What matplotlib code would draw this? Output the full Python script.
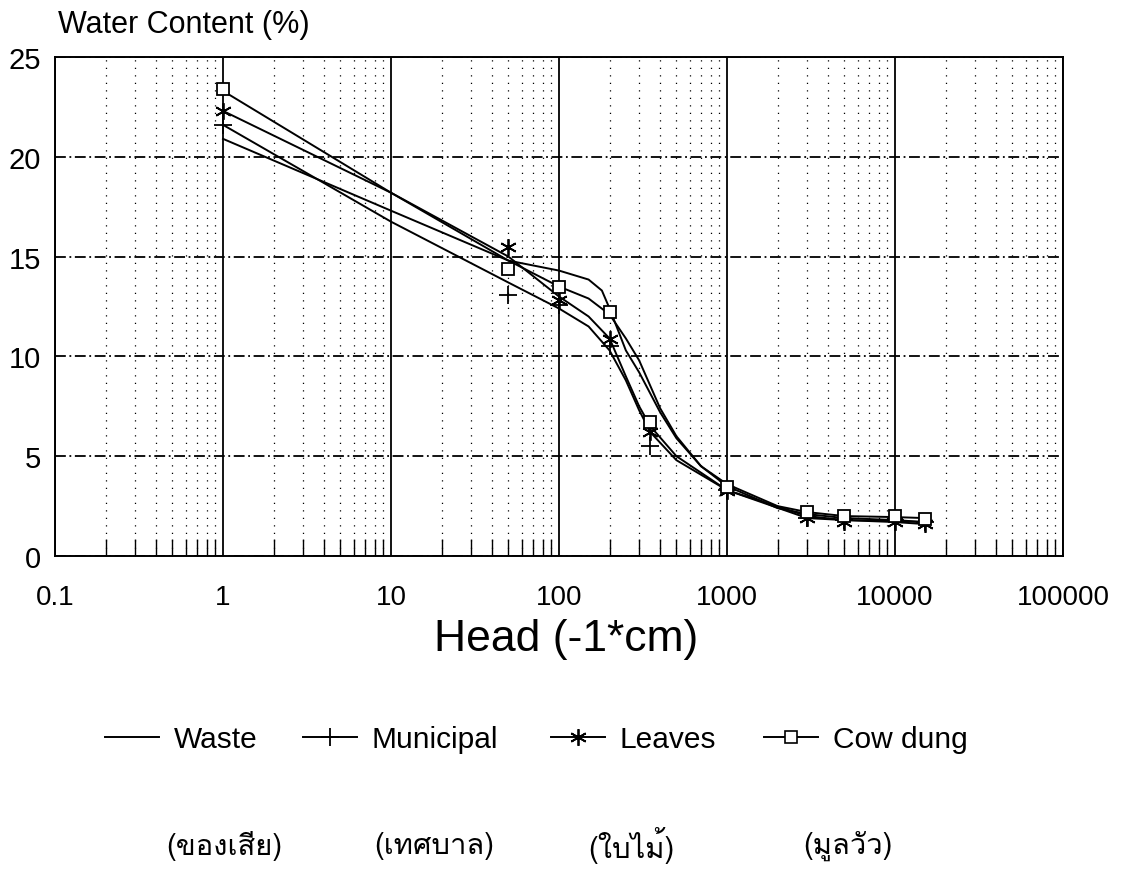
import matplotlib
matplotlib.use('Agg')
import matplotlib.pyplot as plt
from matplotlib import font_manager
from matplotlib.ft2font import FT2Font
from matplotlib.lines import Line2D
from matplotlib.ticker import LogLocator, NullFormatter, FixedLocator, FixedFormatter

head = [1, 50, 100, 200, 350, 1000, 3000, 5000, 10000, 15000]
municipal = [21.6, 13.1, 12.6, 10.5, 5.5, 3.3, 1.9, 1.8, 1.8, 1.7]
leaves = [22.3, 15.5, 12.85, 10.85, 6.2, 3.25, 1.9, 1.7, 1.7, 1.6]
cow_dung = [23.4, 14.4, 13.5, 12.2, 6.7, 3.45, 2.2, 2.0, 2.0, 1.85]

# --- fitted curves ---
waste_fit_x = [1, 10, 50, 100, 150, 180, 200, 250, 300, 400, 500, 700, 1000, 2000, 3000, 5000, 10000, 15000]
waste_fit = [20.9, 17.3, 14.8, 14.3, 13.85, 13.3, 12.4, 10.3, 9.2, 7.2, 5.9, 4.5, 3.5, 2.4, 2.1, 1.9, 1.8, 1.7]
municipal_fit_x = [1, 10, 50, 100, 150, 200, 250, 300, 350, 500, 1000, 3000, 5000, 10000, 15000]
municipal_fit = [21.6, 16.75, 13.7, 12.4, 11.5, 10.3, 8.8, 7.3, 6.2, 4.8, 3.3, 1.9, 1.8, 1.75, 1.7]
leaves_fit_x = [1, 10, 50, 100, 150, 200, 250, 300, 350, 500, 1000, 3000, 5000, 10000, 15000]
leaves_fit = [22.3, 18.2, 15.0, 13.0, 12.0, 10.9, 9.0, 7.5, 6.5, 5.0, 3.3, 2.0, 1.8, 1.7, 1.6]
cow_fit_x = [1, 10, 50, 100, 150, 200, 250, 300, 400, 500, 700, 1000, 2000, 3000, 5000, 10000, 15000]
cow_fit = [23.3, 18.2, 14.8, 13.5, 12.9, 12.1, 10.9, 9.8, 7.4, 6.0, 4.5, 3.6, 2.5, 2.2, 2.0, 1.95, 1.9]

xticks = [0.1, 1, 10, 100, 1000, 10000, 100000]
xtick_labels = ['0.1', '1', '10', '100', '1000', '10000', '100000']
yticks = [0, 5, 10, 15, 20, 25]
thai_labels = ['(ของเสีย)', '(เทศบาล)', '(ใบไม้)', '(มูลวัว)']
thai_x = [224, 434, 631, 848]


# หาฟอนต์ที่มีตัวอักษรไทย
def find_thai_font():
    for f in font_manager.fontManager.ttflist:
        try:
            cmap = FT2Font(f.fname).get_charmap()
        except Exception:
            continue
        if 0x0E02 in cmap and 0x0E40 in cmap:
            return f.name
    return 'DejaVu Sans'


thai_font = find_thai_font()
plt.rcParams['font.family'] = ['Liberation Sans', 'DejaVu Sans']

W, H = 1129, 870
fig = plt.figure(figsize=(W / 100, H / 100), dpi=100)
ax = fig.add_axes([55 / W, 1 - 557 / H, 1008 / W, (557 - 58) / H])
ax.set_xscale('log')
ax.set_xlim(0.1, 100000)
ax.set_ylim(0, 25)

lw = 1.4
ax.plot(waste_fit_x, waste_fit, color='black', lw=lw)
ax.plot(municipal_fit_x, municipal_fit, color='black', lw=lw)
ax.plot(leaves_fit_x, leaves_fit, color='black', lw=lw)
ax.plot(cow_fit_x, cow_fit, color='black', lw=lw)

ax.plot(head, municipal, ls='none', color='black', marker='+', ms=13, mew=1.3)
ax.plot(head, leaves, ls='none', color='black', marker=(6, 2, 0), ms=12, mew=1.3)
ax.plot(head, cow_dung, ls='none', color='black', marker='s', ms=9, mfc='white', mew=1.3)

# grid
ax.xaxis.set_major_locator(FixedLocator(xticks))
ax.xaxis.set_major_formatter(FixedFormatter(xtick_labels))
ax.xaxis.set_minor_locator(LogLocator(base=10, subs=range(2, 10), numticks=20))
ax.xaxis.set_minor_formatter(NullFormatter())
ax.set_yticks(yticks)
ax.grid(which='major', axis='x', color='black', lw=1.3, ls='-')
ax.grid(which='major', axis='y', color='black', lw=1.3, ls=(0, (6, 2, 1, 2)))
ax.grid(which='minor', axis='x', color='black', lw=0.9, ls=(0, (1, 5)))
ax.tick_params(axis='x', which='major', length=0, pad=20, labelsize=20)
ax.tick_params(axis='x', which='minor', direction='in', length=12, width=1.0)
ax.tick_params(axis='y', length=0, pad=10, labelsize=21)
for s in ax.spines.values():
    s.set_color('black')
    s.set_linewidth(1.4)

fig.text(58 / W, 1 - 25 / H, 'Water Content (%)', fontsize=22, va='center', ha='left')
fig.text(566 / W, 1 - 640 / H, 'Head (-1*cm)', fontsize=32, va='center', ha='center')

# legend: one entry per box so each sits where it is in the scan
entries = [
    ('Waste', dict()),
    ('Municipal', dict(marker='+', ms=13, mew=1.3)),
    ('Leaves', dict(marker=(6, 2, 0), ms=12, mew=1.3)),
    ('Cow dung', dict(marker='s', ms=8, mfc='white', mew=1.2)),
]
legend_x = [105, 303, 551, 764]
for (name, style), x0 in zip(entries, legend_x):
    h = Line2D([], [], color='black', lw=lw, **style)
    fig.legend(handles=[h], labels=[name], loc='center left', bbox_to_anchor=(x0 / W, 1 - 740 / H),
               frameon=False, fontsize=21.5, handlelength=1.8, handletextpad=0.5,
               borderpad=0, borderaxespad=0, numpoints=1)

for lab, x in zip(thai_labels, thai_x):
    fig.text(x / W, 1 - 846 / H, lab, fontsize=21, ha='center', va='center',
             family=[thai_font, 'DejaVu Sans'])

fig.savefig('out.png', dpi=100)
